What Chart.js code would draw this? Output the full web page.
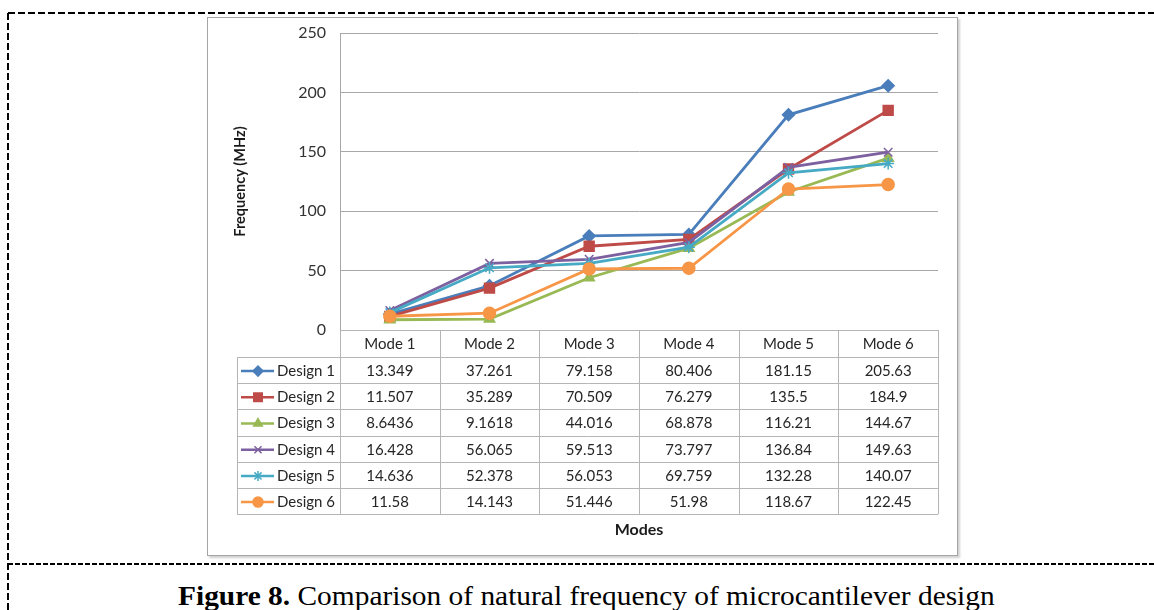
<!DOCTYPE html>
<html>
<head>
<meta charset="utf-8">
<script src="https://cdn.jsdelivr.net/npm/chart.js@4.4.0/dist/chart.umd.min.js"></script>
<style>
  body { margin: 0; background: #fff; width: 1154px; height: 610px; overflow: hidden; position: relative; }
  #frame { position: absolute; left: 0; top: 0; }
  #box { position: absolute; left: 207px; top: 17px; width: 749px; height: 537px; border: 1px solid #a5a5a5; box-shadow: 2px 2px 2px #d0d0d0; background: #fff; }
  #caption { position: absolute; left: 178px; top: 582px; font-family: "Liberation Serif", "Times New Roman", serif; font-size: 28px; line-height: 28px; white-space: nowrap; color: #000; transform: scaleX(1.05); transform-origin: left top; }
</style>
</head>
<body>
<svg id="frame" width="1154" height="610">
  <g stroke="#000" stroke-width="2" fill="none">
    <line x1="8" y1="13" x2="1154" y2="13" stroke-dasharray="7 3"/>
    <line x1="8" y1="13" x2="8" y2="610" stroke-dasharray="7 3"/>
    <line x1="8" y1="564" x2="1154" y2="564" stroke-dasharray="5 2"/>
  </g>
</svg>
<div id="box"><canvas id="chart" width="749" height="537" style="width:749px;height:537px"></canvas></div>
<div id="caption"><b>Figure 8.</b> Comparison of natural frequency of microcantilever design</div>

<script>
const modes = ["Mode 1", "Mode 2", "Mode 3", "Mode 4", "Mode 5", "Mode 6"];
const designs = ["Design 1", "Design 2", "Design 3", "Design 4", "Design 5", "Design 6"];

const design1 = [13.349, 37.261, 79.158, 80.406, 181.15, 205.63];
const design2 = [11.507, 35.289, 70.509, 76.279, 135.5, 184.9];
const design3 = [8.6436, 9.1618, 44.016, 68.878, 116.21, 144.67];
const design4 = [16.428, 56.065, 59.513, 73.797, 136.84, 149.63];
const design5 = [14.636, 52.378, 56.053, 69.759, 132.28, 140.07];
const design6 = [11.58, 14.143, 51.446, 51.98, 118.67, 122.45];
const values = [design1, design2, design3, design4, design5, design6];

const yMin = 0, yMax = 250, yStep = 50;

const colors = ["#4a7ebb", "#be4b48", "#98b954", "#7d60a0", "#46aac5", "#f79646"];
const markers = ["rectRot", "rect", "triangle", "crossRot", "star", "circle"];
const markerSize = [6, 7, 6, 6, 6, 6];

const font = "Lato, 'Open Sans', sans-serif";

// draws the data table under the plot, lined up with the x scale
const tablePlugin = {
  id: "dataTable",
  afterDraw(chart) {
    const ctx = chart.ctx;
    const x = chart.scales.x;
    const area = chart.chartArea;
    const colW = (x.right - x.left) / modes.length;
    const headTop = area.bottom;
    const headH = 27, rowH = 26.2;
    const rowsTop = headTop + headH;
    const legLeft = 29;
    const bottom = rowsTop + rowH * designs.length;

    ctx.save();
    ctx.strokeStyle = "#b5b5b5";
    ctx.lineWidth = 1;
    ctx.beginPath();
    ctx.moveTo(x.left, Math.round(headTop) + 0.5);
    ctx.lineTo(x.right, Math.round(headTop) + 0.5);
    for (let r = 0; r <= designs.length; r++) {
      const yy = Math.round(rowsTop + r * rowH) + 0.5;
      ctx.moveTo(legLeft, yy);
      ctx.lineTo(x.right, yy);
    }
    for (let c = 0; c <= modes.length; c++) {
      const xx = Math.round(x.left + c * colW) + 0.5;
      ctx.moveTo(xx, headTop);
      ctx.lineTo(xx, bottom);
    }
    ctx.moveTo(legLeft + 0.5, rowsTop);
    ctx.lineTo(legLeft + 0.5, bottom);
    ctx.stroke();

    ctx.fillStyle = "#262626";
    ctx.font = "15px " + font;
    ctx.textAlign = "center";
    ctx.textBaseline = "middle";
    modes.forEach((m, c) => {
      ctx.fillText(m, x.getPixelForValue(c), headTop + headH / 2 + 1);
    });

    designs.forEach((d, r) => {
      const cy = rowsTop + r * rowH + rowH / 2 + 1;
      // legend key
      ctx.strokeStyle = colors[r];
      ctx.fillStyle = colors[r];
      ctx.lineWidth = 2.5;
      ctx.beginPath();
      ctx.moveTo(legLeft + 4, cy);
      ctx.lineTo(legLeft + 37, cy);
      ctx.stroke();
      ctx.lineWidth = 1.5;
      Chart.helpers.drawPoint(ctx, { pointStyle: markers[r], radius: markerSize[r] - 1, borderWidth: 1.5, rotation: 0 }, legLeft + 21, cy);

      ctx.fillStyle = "#262626";
      ctx.textAlign = "left";
      ctx.fillText(d, legLeft + 40, cy);
      ctx.textAlign = "center";
      values[r].forEach((v, c) => {
        ctx.fillText(String(v), x.getPixelForValue(c), cy);
      });
    });

    // axis titles
    ctx.fillStyle = "#1a1a1a";
    ctx.font = "bold 16px " + font;
    ctx.fillText("Modes", (x.left + x.right) / 2, bottom + 16);
    ctx.save();
    ctx.translate(32, (area.top + area.bottom) / 2);
    ctx.rotate(-Math.PI / 2);
    ctx.font = "bold 14.5px " + font;
    ctx.fillText("Frequency (MHz)", 0, 0);
    ctx.restore();
    ctx.restore();
  }
};

const datasets = designs.map((d, i) => ({
  label: d,
  data: values[i],
  borderColor: colors[i],
  backgroundColor: colors[i],
  borderWidth: 2.8,
  pointStyle: markers[i],
  pointRadius: markerSize[i],
  pointBorderWidth: 1.5,
  pointBackgroundColor: colors[i],
  pointBorderColor: colors[i],
  tension: 0,
  order: designs.length - i
}));

new Chart(document.getElementById("chart"), {
  type: "line",
  data: { labels: modes, datasets: datasets },
  options: {
    responsive: false,
    animation: false,
    devicePixelRatio: 1,
    layout: { padding: { left: 62, right: 19, top: 15, bottom: 225 } },
    plugins: { legend: { display: false }, tooltip: { enabled: false } },
    scales: {
      x: {
        offset: true,
        ticks: { display: false },
        grid: { display: false },
        border: { display: true, color: "#b5b5b5" },
        afterFit: s => { s.height = 0; s.paddingLeft = 0; s.paddingRight = 0; }
      },
      y: {
        min: yMin,
        max: yMax,
        ticks: { stepSize: yStep, padding: 14, color: "#333", font: { family: font, size: 16 } },
        grid: { color: "#a8a8a8", drawTicks: false },
        border: { display: true, color: "#a8a8a8" },
        afterFit: s => { s.width = 70; s.paddingTop = 0; s.paddingBottom = 0; }
      }
    }
  },
  plugins: [tablePlugin]
});
</script>
</body>
</html>
